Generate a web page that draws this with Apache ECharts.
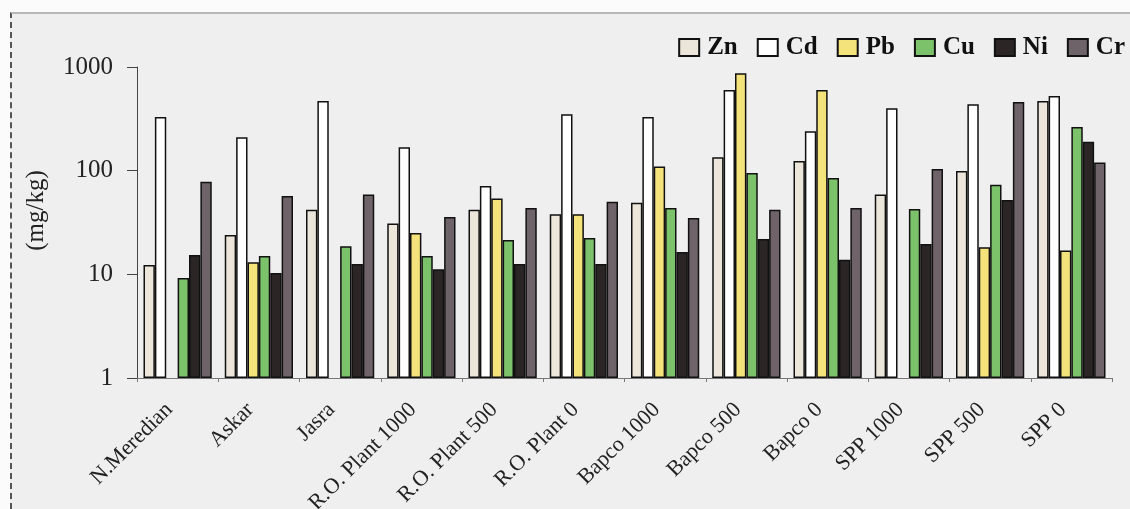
<!DOCTYPE html>
<html>
<head>
<meta charset="utf-8">
<script src="https://cdn.jsdelivr.net/npm/echarts@6/dist/echarts.min.js"></script>
<style>
  html, body { margin: 0; padding: 0; background: #fbfbfb; }
  #frame { position: absolute; left: 10px; top: 12px; width: 1120px; height: 497px;
    background: #efefef; border-top: 2px solid #b8b8b8; border-left: 2px dashed #555; box-sizing: border-box; }
  #chart { position: absolute; left: 0; top: 0; width: 1130px; height: 509px; }
</style>
</head>
<body>
<div id="frame"></div>
<div id="chart"></div>
<script>
// sites along the x axis
const sites = ['N.Meredian', 'Askar', 'Jasra', 'R.O. Plant 1000', 'R.O. Plant 500', 'R.O. Plant 0',
  'Bapco 1000', 'Bapco 500', 'Bapco 0', 'SPP 1000', 'SPP 500', 'SPP 0']

// metal concentrations (mg/kg)
const zn = [12.3, 24, 42, 31, 42, 38, 49, 135, 124, 59, 99, 470]
const cd = [330, 210, 470, 168, 71, 350, 330, 600, 240, 400, 437, 525]
const pb = [null, 13.1, null, 25, 54, 38, 110, 870, 600, null, 18.3, 17]
const cu = [9.2, 15, 18.7, 15, 21.4, 22.4, 43.6, 95, 85, 42.7, 73, 264]
const ni = [15.4, 10.3, 12.6, 11.2, 12.6, 12.6, 16.4, 21.9, 13.8, 19.6, 52, 190]
const cr = [78, 57, 59, 35.7, 43.6, 50, 35, 42, 43.6, 104, 460, 120]

const metals = ['Zn', 'Cd', 'Pb', 'Cu', 'Ni', 'Cr']
const colors = ['#ebe5da', '#ffffff', '#f4e27a', '#7cc26a', '#2b2526', '#6e6369']

let chart = echarts.init(document.getElementById('chart'))

let series = [zn, cd, pb, cu, ni, cr].map((d, i) => ({
  name: metals[i],
  type: 'bar',
  data: d,
  barGap: '0%',
  barCategoryGap: '16%',
  itemStyle: { color: colors[i], borderColor: '#111', borderWidth: 1.5 }
}))

chart.setOption({
  animation: false,
  textStyle: { fontFamily: 'Liberation Serif' },
  legend: {
    right: 0,
    top: 30,
    icon: 'rect',
    itemWidth: 20,
    itemHeight: 17,
    itemGap: 19,
    data: metals,
    textStyle: { fontFamily: 'Liberation Serif', fontWeight: 'bold', fontSize: 25, color: '#111', padding: [0, 0, 0, 3] },
    itemStyle: { borderColor: '#111', borderWidth: 2 }
  },
  grid: {
    left: 137,
    right: 18,
    top: 67,
    bottom: 131,
    containLabel: false,
    outerBoundsMode: 'none'
  },
  xAxis: {
    type: 'category',
    data: sites,
    axisLine: { lineStyle: { color: '#777', width: 1 } },
    axisTick: { show: true, length: 4, lineStyle: { color: '#777' } },
    axisLabel: {
      rotate: 45,
      interval: 0,
      margin: 20,
      fontSize: 22,
      color: '#222',
      fontFamily: 'Liberation Serif',
      padding: [0, 12, 0, 0]
    }
  },
  yAxis: {
    type: 'log',
    logBase: 10,
    min: 1,
    max: 1000,
    name: '(mg/kg)',
    nameLocation: 'middle',
    nameGap: 88,
    nameRotate: 90,
    nameTextStyle: { fontSize: 25, color: '#222', fontFamily: 'Liberation Serif', padding: [0, 0, 0, 24] },
    axisLine: { show: true, lineStyle: { color: '#444', width: 1 } },
    axisTick: { show: true, length: 10, lineStyle: { color: '#444' } },
    splitLine: { show: false },
    axisLabel: {
      fontSize: 25, color: '#222', margin: 24, fontFamily: 'Liberation Serif',
      formatter: v => String(Math.round(v))
    }
  },
  series: series
})
</script>
</body>
</html>
